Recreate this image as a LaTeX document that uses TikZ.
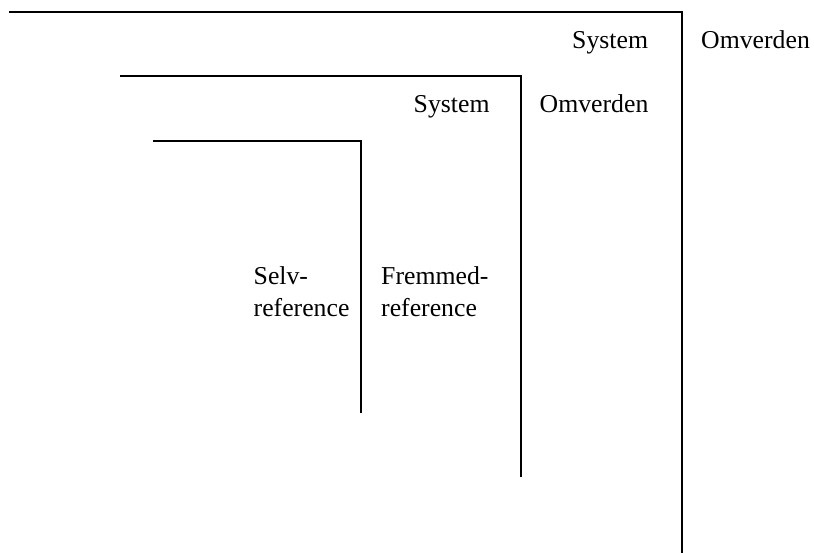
\documentclass[tikz,border=0pt]{standalone}
\usepackage{fontspec}
\setmainfont{Liberation Serif}
\begin{document}
\begin{tikzpicture}[x=1pt,y=-1pt,
  bar/.style={line width=2pt,black},
  lbl/.style={anchor=base west,inner sep=0pt,font=\fontsize{25.75}{32}\selectfont}]
\useasboundingbox (0,0) rectangle (814,552);
\coordinate (a1) at (9,12);
\coordinate (a2) at (682,12);
\coordinate (a3) at (682,553);
\coordinate (b1) at (120,76);
\coordinate (b2) at (521,76);
\coordinate (b3) at (521,476.5);
\coordinate (c1) at (153,141);
\coordinate (c2) at (361,141);
\coordinate (c3) at (361,412.5);
\draw[bar] (a1) -- (a2) -- (a3);
\draw[bar] (b1) -- (b2) -- (b3);
\draw[bar] (c1) -- (c2) -- (c3);
\node[lbl] (s1) at (572,48) {System};
\node[lbl] (o1) at (701,48) {Omverden};
\node[lbl] (s2) at (413.5,112.7) {System};
\node[lbl] (o2) at (539.5,112.7) {Omverden};
\node[lbl] (sr1) at (253.5,284) {Selv-};
\node[lbl] (sr2) at (253.5,316) {reference};
\node[lbl] (fr1) at (381,284) {Fremmed-};
\node[lbl] (fr2) at (381,316) {reference};
\end{tikzpicture}
\end{document}
